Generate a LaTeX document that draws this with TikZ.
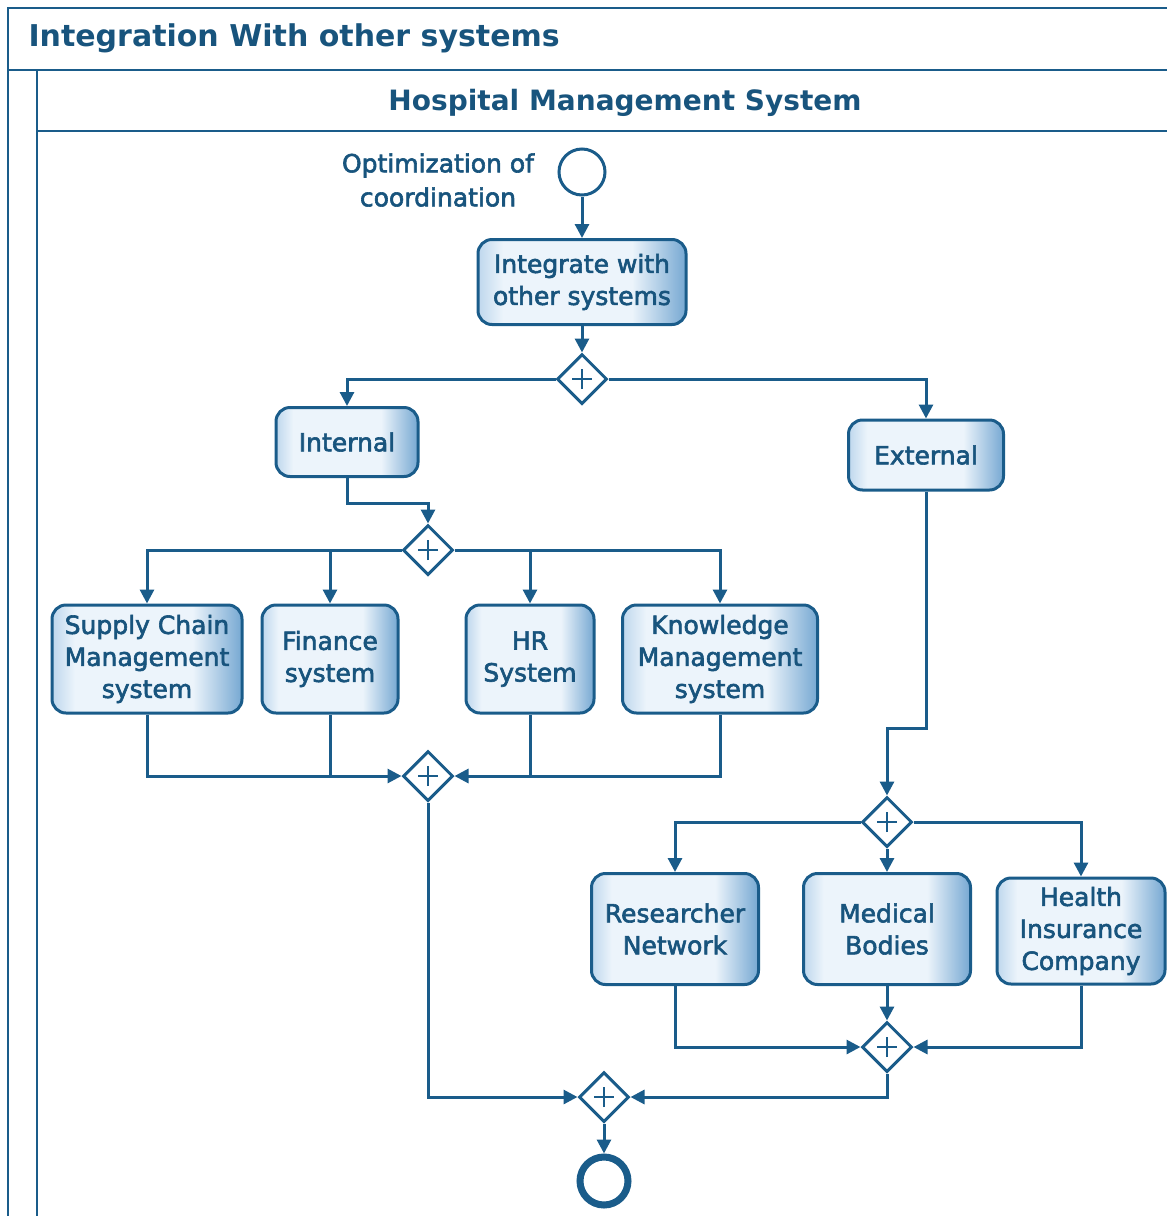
\documentclass[tikz,border=0pt]{standalone}
\usepackage{fontspec}
\usetikzlibrary{arrows.meta,shapes.geometric}
\newfontfamily\nodefont{DejaVu Sans}[FakeBold=2.4]
\newfontfamily\headfont{DejaVu Sans}
\definecolor{lineblue}{RGB}{26,92,138}
\definecolor{textblue}{RGB}{24,84,125}
\definecolor{shadeL}{RGB}{190,215,237}
\definecolor{shadeM}{RGB}{236,244,251}
\definecolor{shadeR}{RGB}{118,168,210}
% box fill: light blue rim on the left, pale body, deeper blue on the right
\pgfdeclarehorizontalshading{boxshade}{100bp}{%
  color(0bp)=(shadeL); color(25bp)=(shadeL); color(31bp)=(shadeM);
  color(62bp)=(shadeM); color(75bp)=(shadeR); color(100bp)=(shadeR)}
\tikzset{
  lane/.style={draw=lineblue, line width=2.6pt},
  activity/.style={draw=lineblue, line width=3pt, rounded corners=14pt,
    shading=boxshade, shading angle=0,
    text=textblue, align=center, inner sep=0pt,
    font=\nodefont\fontsize{25}{32}\selectfont},
  gateway/.style={diamond, draw=lineblue, line width=3pt, fill=white,
    minimum width=50pt, minimum height=50pt, inner sep=0pt,
    path picture={
      \draw[lineblue, line width=2.6pt]
        ([xshift=-10pt]path picture bounding box.center) -- ++(20pt,0)
        ([yshift=-10pt]path picture bounding box.center) -- ++(0,20pt);}},
  flow/.style={draw=lineblue, line width=3pt,
    -{Triangle[length=14pt,width=14pt]}},
  link/.style={draw=lineblue, line width=3pt},
}
\begin{document}
\begin{tikzpicture}[x=1pt, y=-1pt]
\useasboundingbox (0,0) rectangle (1167,1216);

% pool and lane frames
\draw[lane] (8,1230) -- (8,8) -- (1180,8);
\draw[lane] (8,70) -- (1180,70);
\draw[lane] (37,70) -- (37,1230);
\draw[lane] (37,131) -- (1180,131);
\node[anchor=west, text=textblue, font=\headfont\bfseries\fontsize{30}{34}\selectfont]
  (pooltitle) at (25,38) {Integration With other systems};
\node[text=textblue, font=\headfont\bfseries\fontsize{28}{32}\selectfont]
  (lanetitle) at (625,103) {Hospital Management System};

% start / end events
\node[circle, draw=lineblue, line width=3pt, fill=white, minimum size=46pt, inner sep=0pt]
  (start) at (582,172) {};
\node[text=textblue, align=center, font=\nodefont\fontsize{25}{34}\selectfont]
  (startlabel) at (438,180) {Optimization of\\coordination};
\node[circle, draw=lineblue, line width=7pt, fill=white, minimum size=48pt, inner sep=0pt]
  (end) at (604,1181) {};

% activities
\node[activity, minimum width=208pt, minimum height=85pt] (integ) at (582,282) {Integrate with\\other systems};
\node[activity, minimum width=142pt, minimum height=69pt] (internal) at (347,442) {Internal};
\node[activity, minimum width=155pt, minimum height=70pt] (external) at (926,455) {External};
\node[activity, minimum width=190pt, minimum height=108pt] (scm) at (147,659) {Supply Chain\\Management\\system};
\node[activity, minimum width=136pt, minimum height=108pt] (finance) at (330,659) {Finance\\system};
\node[activity, minimum width=128pt, minimum height=108pt] (hr) at (530,659) {HR\\System};
\node[activity, minimum width=195pt, minimum height=108pt] (km) at (720,659) {Knowledge\\Management\\system};
\node[activity, minimum width=167pt, minimum height=111pt] (res) at (675,929) {Researcher\\Network};
\node[activity, minimum width=167pt, minimum height=111pt] (med) at (887,929) {Medical\\Bodies};
\node[activity, minimum width=168pt, minimum height=106pt] (health) at (1081,931) {Health\\Insurance\\Company};

% gateways
\node[gateway] (g1) at (582,379) {};
\node[gateway] (g2) at (428,550) {};
\node[gateway] (g3) at (428,776) {};
\node[gateway] (g4) at (887,822) {};
\node[gateway] (g5) at (887,1047) {};
\node[gateway] (g6) at (604,1097) {};

% sequence flows
\draw[flow] (start) -- (integ);
\draw[flow] (integ) -- (g1);
\draw[flow] (g1.west) -| (internal.north);
\draw[flow] (g1.east) -| (external.north);
\draw[flow] (internal.south) -- ++(0,25) -| (g2.north);
\draw[flow] (g2.west) -| (scm.north);
\draw[flow] (g2.west -| finance.north) -- (finance.north);
\draw[flow] (g2.east) -| (km.north);
\draw[flow] (g2.east -| hr.north) -- (hr.north);
\draw[flow] (scm.south) |- (g3.west);
\draw[link] (finance.south) -- (finance.south |- g3.west);
\draw[flow] (km.south) |- (g3.east);
\draw[link] (hr.south) -- (hr.south |- g3.east);
\draw[flow] (g3.south) |- (g6.west);
\draw[flow] (external.south) -- ++(0,237) -| (g4.north);
\draw[flow] (g4.west) -| (res.north);
\draw[flow] (g4.south) -- (med.north);
\draw[flow] (g4.east) -| (health.north);
\draw[flow] (res.south) |- (g5.west);
\draw[flow] (med.south) -- (g5.north);
\draw[flow] (health.south) |- (g5.east);
\draw[flow] (g5.south) |- (g6.east);
\draw[flow] (g6.south) -- (end.north);
\end{tikzpicture}
\end{document}
